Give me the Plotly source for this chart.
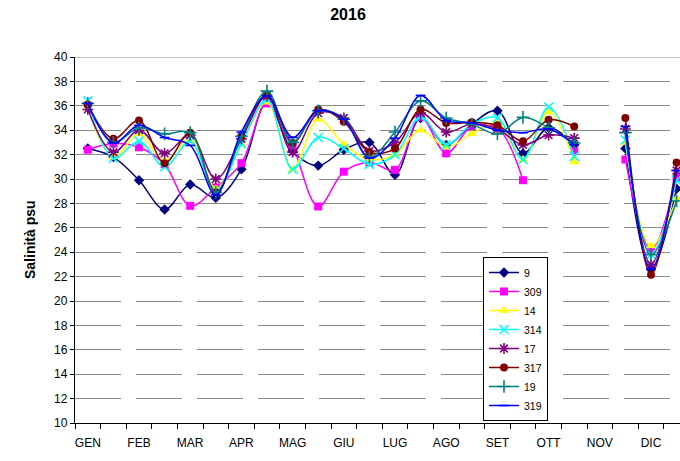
import plotly.graph_objects as go

# Two sampling slots per month; the first NOV slot has no data
months = ["GEN", "FEB", "MAR", "APR", "MAG", "GIU", "LUG", "AGO", "SET", "OTT", "NOV", "DIC"]
slots = list(range(24))

s9 = [32.5, 31.8, 29.9, 27.5, 29.55, 28.45, 30.8, 36.3, 32.3, 31.1, 32.4, 33.0,
      30.35, 35.0, 32.8, 34.5, 35.6, 32.1, 34.2, 32.8, None, 32.5, 22.6, 29.2]
s309 = [32.4, 32.9, 32.6, 31.2, 27.8, 29.3, 31.3, 36.2, 32.7, 27.75, 30.6, 31.35,
        30.75, 35.1, 32.1, 34.3, 34.2, 29.9, None, 32.3, None, 31.6, 24.2, 30.15]
s14 = [35.8, 31.8, 33.7, 31.5, 33.3, 29.2, 32.9, 36.3, 30.8, 34.9, 32.85, 31.6,
       32.0, 34.0, 32.6, 33.7, 34.6, 31.6, 35.5, 31.4, None, 33.0, 24.5, 28.4]
s314 = [36.4, 31.7, 33.1, 31.0, 33.1, 29.0, 32.9, 36.5, 30.8, 33.4, 32.5, 31.2,
        32.0, 35.1, 32.8, 34.5, 35.0, 31.6, 35.9, 31.85, None, 33.2, 23.8, 29.9]
s17 = [35.7, 32.2, 34.0, 32.1, 33.6, 30.0, 33.3, 36.8, 32.2, 35.4, 35.0, 32.3,
       33.0, 35.4, 33.85, 34.5, 34.1, 32.8, 33.6, 33.35, None, 34.1, 23.0, 30.7]
s317 = [36.1, 33.3, 34.8, 31.3, 33.8, 28.9, 33.5, 36.9, 32.95, 35.7, 34.7, 32.2,
        32.5, 35.7, 34.6, 34.65, 34.4, 33.1, 34.85, 34.3, None, 35.0, 22.15, 31.35]
s19 = [36.2, 33.0, 34.2, 33.7, 33.8, 28.9, 33.5, 37.2, 33.0, 35.6, 34.9, 31.8,
       33.85, 36.4, 35.0, 34.5, 33.7, 35.05, 34.2, 32.95, None, 33.8, 23.8, 28.2]
s319 = [36.2, 32.95, 34.4, 33.4, 32.75, 28.7, 33.85, 36.8, 33.4, 35.6, 34.9, 31.7,
        33.35, 36.85, 34.8, 34.6, 34.0, 33.8, 34.1, 32.8, None, 34.3, 22.6, 30.7]

series = [
    ("9", s9, "#000080", "diamond", 8, False),
    ("309", s309, "#FF00FF", "square", 8, False),
    ("14", s14, "#FFFF00", "triangle-up", 9, False),
    ("314", s314, "#00FFFF", "x-thin-open", 9, True),
    ("17", s17, "#800080", "asterisk-open", 9, True),
    ("317", s317, "#800000", "circle", 8, False),
    ("19", s19, "#008080", "cross-thin-open", 9, True),
    ("319", s319, "#0000FF", "line-ew-open", 7, True),
]

fig = go.Figure()
for name, vals, color, symbol, size, thin in series:
    marker = dict(symbol=symbol, size=size, color=color)
    if thin:
        marker["line"] = dict(color=color, width=1.6)
    else:
        marker["line"] = dict(width=0)
    fig.add_trace(go.Scatter(
        x=slots, y=vals, name=name, mode="lines+markers",
        line=dict(color=color, width=1.5, shape="spline", smoothing=1),
        marker=marker, connectgaps=False,
    ))

W, H = 680, 461
L, R, T, B = 75, 0, 57, 38
slot_px = 25.6
x_end = -0.5 + (W - L - R) / slot_px

fig.update_layout(
    width=W, height=H,
    margin=dict(l=L, r=R, t=T, b=B),
    paper_bgcolor="white", plot_bgcolor="white",
    font=dict(family="Arial, Liberation Sans, sans-serif", size=12, color="black"),
    title=dict(text="<b>2016</b>", x=348 / W, xref="container", xanchor="center",
               y=1 - 14 / H, yref="container", yanchor="middle",
               font=dict(size=16, color="black")),
    showlegend=True,
    legend=dict(x=(483 - L) / (W - L - R), y=(H - B - 257) / (H - T - B),
                xanchor="left", yanchor="top",
                bgcolor="white", bordercolor="black", borderwidth=1,
                font=dict(size=10.5), tracegroupgap=0, itemwidth=30,
                traceorder="normal"),
    xaxis=dict(
        range=[-0.5, x_end], showgrid=False, zeroline=False,
        tickmode="array", tickvals=[2 * i for i in range(12)], ticktext=months,
        ticks="", showline=True, linecolor="black", linewidth=1.3,
        tickfont=dict(size=12), ticklabelstandoff=8,
        minor=dict(tickmode="array", tickvals=[i - 0.5 for i in range(25)],
                   ticks="outside", ticklen=5, tickcolor="black", tickwidth=1,
                   showgrid=False),
    ),
    yaxis=dict(
        range=[10, 40], dtick=2, tick0=10, showgrid=True,
        gridcolor="#8a8a8a", gridwidth=1, griddash="46px,15px",
        zeroline=False, showline=True, linecolor="black", linewidth=1.3,
        ticks="outside", ticklen=4, tickcolor="black", tickfont=dict(size=12),
    ),
    annotations=[dict(
        text="<b>Salinità psu</b>", textangle=-90, xref="paper", yref="paper",
        x=(30 - L) / (W - L - R), y=0.5, xanchor="center", yanchor="middle",
        showarrow=False, font=dict(size=14, color="black"),
    )],
    shapes=[dict(type="line", xref="paper", yref="y", x0=0, x1=1, y0=40, y1=40,
                 line=dict(color="#8a8a8a", width=1), layer="below")],
)

fig.write_html("out.html")
